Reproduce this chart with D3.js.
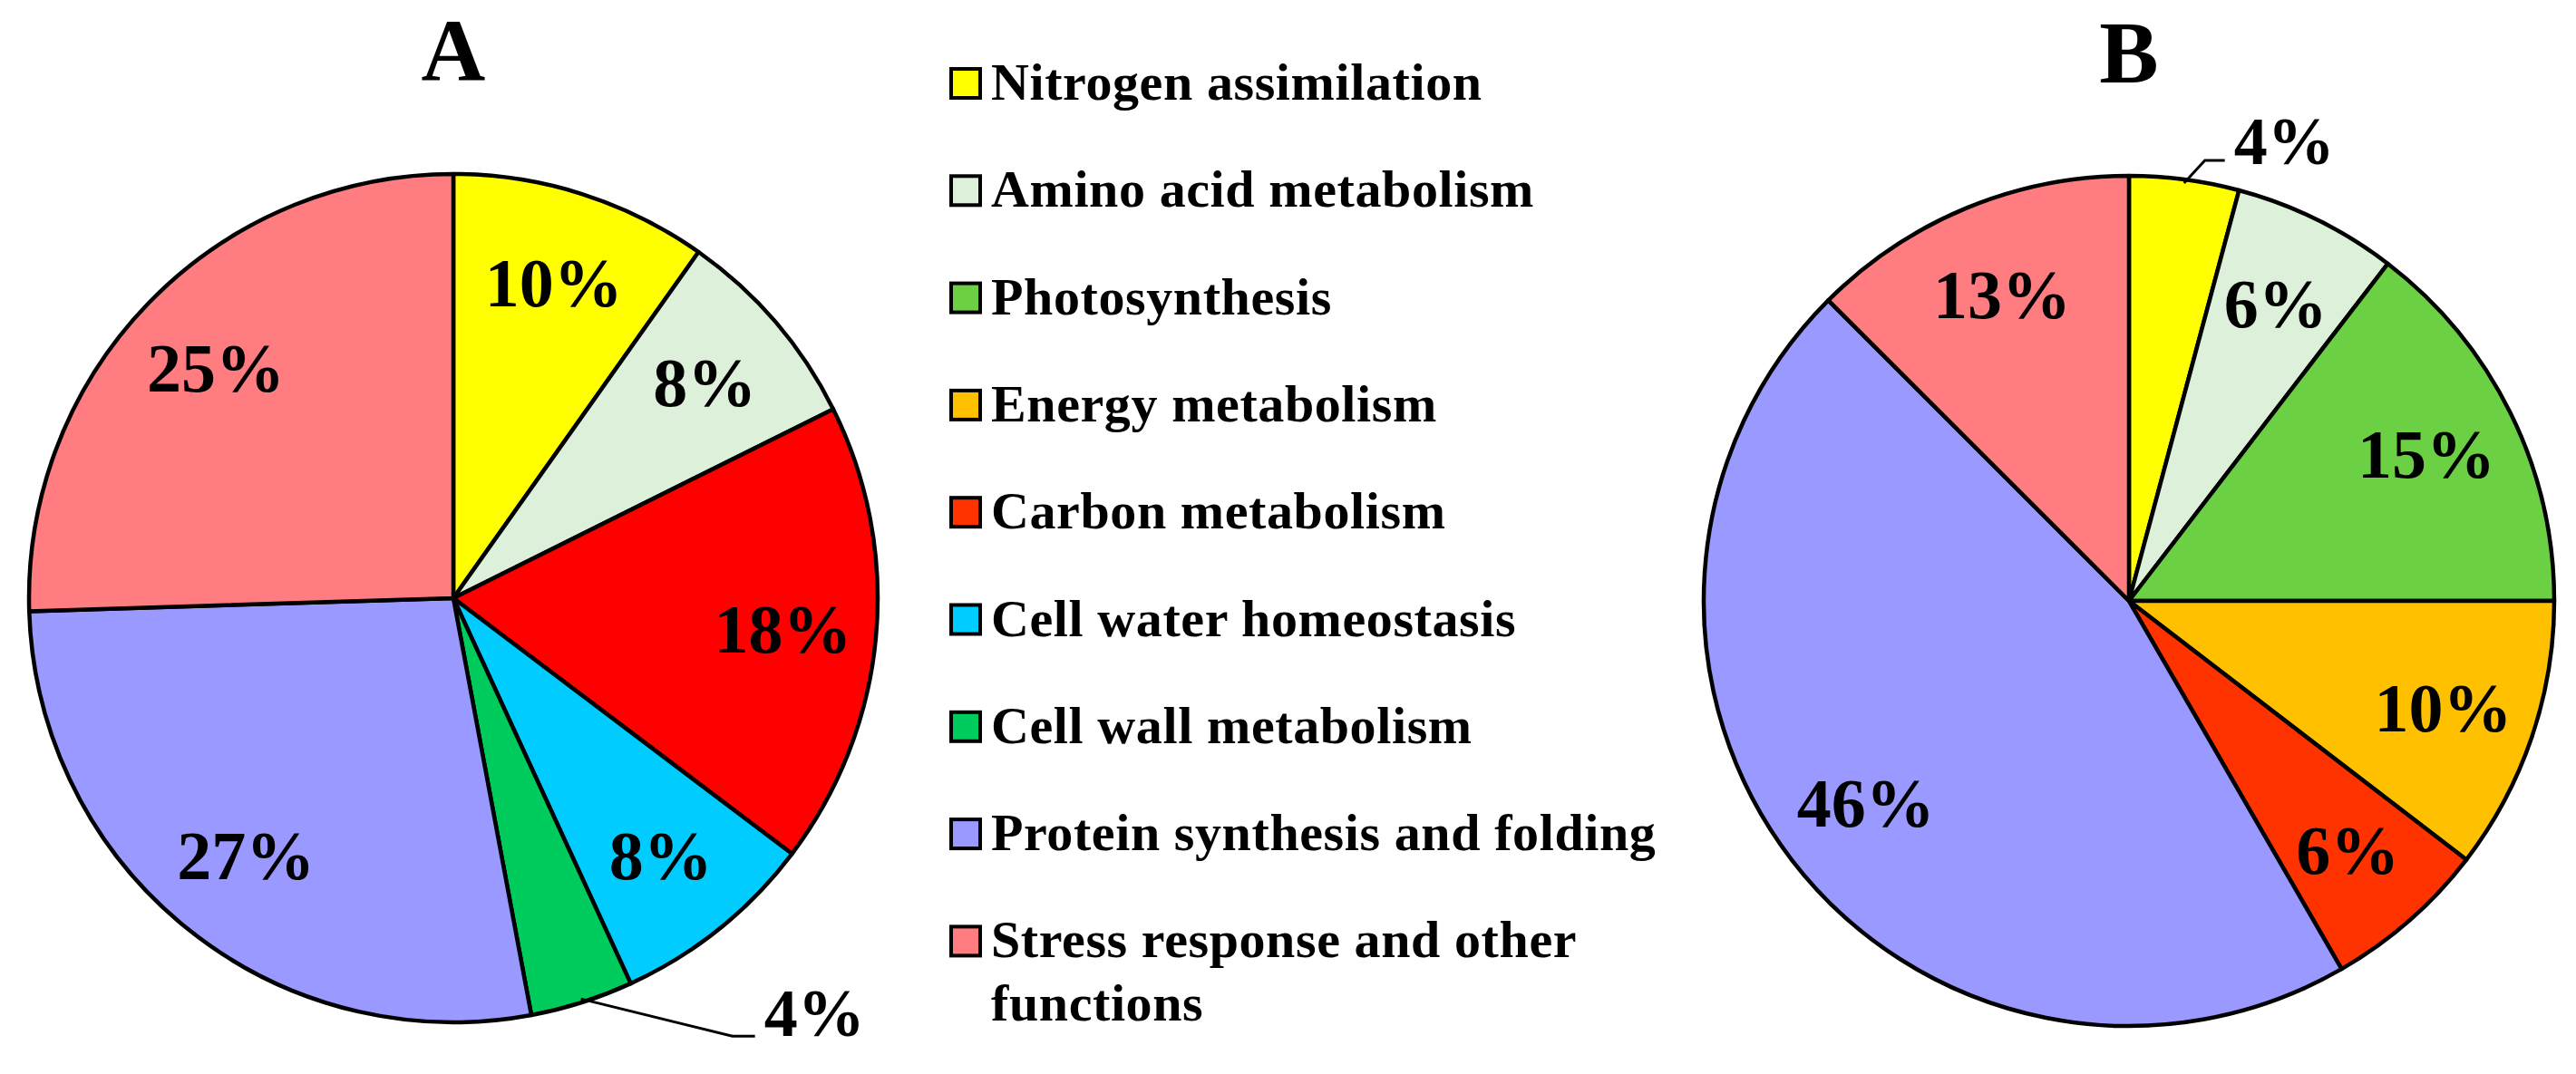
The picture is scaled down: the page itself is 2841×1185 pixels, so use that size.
<!DOCTYPE html>
<html>
<head>
<meta charset="utf-8">
<script src="https://cdn.jsdelivr.net/npm/d3@7"></script>
<style>
  body { margin: 0; background: #fff; }
  text { font-family: "Liberation Serif", "Times New Roman", serif; font-weight: bold; }
</style>
</head>
<body>
<div id="chart"></div>
<script>
// categories shown in the legend (top to bottom)
const categories = [
  'Nitrogen assimilation',
  'Amino acid metabolism',
  'Photosynthesis',
  'Energy metabolism',
  'Carbon metabolism',
  'Cell water homeostasis',
  'Cell wall metabolism',
  'Protein synthesis and folding',
  'Stress response and other functions'
];
const legendColors = ['#FFFF00', '#DDF0DA', '#6CD044', '#FFC000', '#FF3300', '#00CCFF', '#00CC5E', '#9999FF', '#FF7C80'];

// panel A: protein counts per category (clockwise from 12 o'clock)
const catsA = ['Nitrogen assimilation', 'Amino acid metabolism', 'Carbon metabolism',
  'Cell water homeostasis', 'Cell wall metabolism', 'Protein synthesis and folding',
  'Stress response and other functions'];
const countsA = [5, 4, 9, 4, 2, 14, 13];

// panel B
const catsB = ['Nitrogen assimilation', 'Amino acid metabolism', 'Photosynthesis',
  'Energy metabolism', 'Carbon metabolism', 'Protein synthesis and folding',
  'Stress response and other functions'];
const countsB = [2, 3, 7, 5, 3, 22, 6];

const width = 2841;
const height = 1185;

const svg = d3.select('#chart').append('svg')
  .attr('width', width)
  .attr('height', height);

svg.append('rect').attr('width', width).attr('height', height).attr('fill', '#fff');

const colorScale = d3.scaleOrdinal().domain(categories).range(legendColors);

function drawPie(cfg) {
  const data = cfg.cats.map((c, i) => ({ cat: c, value: cfg.counts[i] }));
  const total = d3.sum(data, d => d.value);
  const pie = d3.pie().sort(null).value(d => d.value);
  const arc = d3.arc().innerRadius(0).outerRadius(cfg.r);
  const labelArc = d3.arc().innerRadius(cfg.r * 0.78).outerRadius(cfg.r * 0.78);

  const g = svg.append('g').attr('transform', `translate(${cfg.cx},${cfg.cy})`);
  const arcs = pie(data);

  g.selectAll('path.slice')
    .data(arcs)
    .enter().append('path')
    .attr('class', 'slice')
    .attr('d', arc)
    .attr('fill', d => (cfg.override && cfg.override[d.data.cat]) || colorScale(d.data.cat))
    .attr('stroke', '#000')
    .attr('stroke-width', 4.5)
    .attr('stroke-linejoin', 'round');

  const pct = d => Math.round(d.value / total * 100) + '%';
  const small = d => d.value / total < 0.045;

  g.selectAll('text.inside')
    .data(arcs.filter(d => !small(d.data)))
    .enter().append('text')
    .attr('class', 'inside')
    .attr('transform', d => `translate(${labelArc.centroid(d)})`)
    .attr('text-anchor', 'middle')
    .attr('dominant-baseline', 'central')
    .style('font-size', '76px')
    .text(d => pct(d.data));

  // small slices: label outside with a leader line
  arcs.filter(d => small(d.data)).forEach(d => {
    const a = (d.startAngle + d.endAngle) / 2;
    const p0 = [Math.sin(a) * (cfg.r - 4), -Math.cos(a) * (cfg.r - 4)];
    const p1 = [p0[0] + cfg.lead[0], p0[1] + cfg.lead[1]];
    const p2 = [p1[0] + cfg.lead[2], p1[1]];
    g.append('path')
      .attr('d', d3.line()([p0, p1, p2]))
      .attr('fill', 'none')
      .attr('stroke', '#000')
      .attr('stroke-width', 3);
    g.append('text')
      .attr('x', p2[0] + 10)
      .attr('y', p2[1] + cfg.lead[3])
      .style('font-size', '74px')
      .text(pct(d.data));
  });

  svg.append('text')
    .attr('x', cfg.cx)
    .attr('y', cfg.titleY)
    .attr('text-anchor', 'middle')
    .style('font-size', '98px')
    .text(cfg.title);
}

drawPie({ cats: catsA, counts: countsA, cx: 500, cy: 660, r: 468, title: 'A', titleY: 88,
  lead: [167, 41, 25, 0], override: { 'Carbon metabolism': '#FF0000' } });
drawPie({ cats: catsB, counts: countsB, cx: 2348, cy: 663, r: 469, title: 'B', titleY: 91,
  lead: [23, -25, 22, 4] });

// legend
const legend = svg.append('g').attr('transform', 'translate(1047,92)');
const rowStep = 118.3;
const rows = legend.selectAll('g.row')
  .data(categories)
  .enter().append('g')
  .attr('class', 'row')
  .attr('transform', (d, i) => `translate(0,${i * rowStep})`);

rows.append('rect')
  .attr('x', 2)
  .attr('y', -16)
  .attr('width', 32)
  .attr('height', 32)
  .attr('fill', d => colorScale(d))
  .attr('stroke', '#000')
  .attr('stroke-width', 4);

rows.append('text')
  .attr('x', 46)
  .attr('y', 18)
  .style('font-size', '58px')
  .style('letter-spacing', '0.6px')
  .each(function (d) {
    const t = d3.select(this);
    if (d === 'Stress response and other functions') {
      t.append('tspan').attr('x', 46).text('Stress response and other');
      t.append('tspan').attr('x', 46).attr('dy', 70).text('functions');
    } else {
      t.text(d);
    }
  });
</script>
</body>
</html>
